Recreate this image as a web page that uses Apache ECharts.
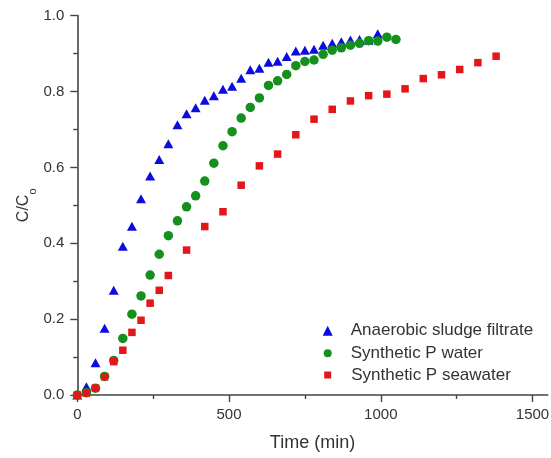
<!DOCTYPE html>
<html>
<head>
<meta charset="utf-8">
<title>Phosphate breakthrough curves</title>
<script src="https://cdn.jsdelivr.net/npm/echarts@6/dist/echarts.min.js"></script>
<style>
  html, body { margin: 0; padding: 0; background: #fff; }
  #chart { width: 551px; height: 458px; }
</style>
</head>
<body>
<div id="chart"></div>
<script>
// Breakthrough data: time (min) and normalised concentration C/Co
const filtrateTime = [0, 30, 60, 90, 120, 150, 180, 210, 240, 270, 300, 330, 360, 390, 420, 450, 480, 510,
  540, 570, 600, 630, 660, 690, 720, 750, 780, 810, 840, 870, 900, 930, 960, 990];
const filtrateConc = [0.0, 0.022, 0.085, 0.176, 0.276, 0.392, 0.445, 0.517, 0.577, 0.621, 0.662, 0.712,
  0.741, 0.757, 0.777, 0.789, 0.806, 0.814, 0.835, 0.857, 0.861, 0.877, 0.880, 0.892, 0.907, 0.909,
  0.911, 0.922, 0.927, 0.931, 0.936, 0.937, 0.935, 0.952];

const waterTime = [0, 30, 60, 90, 120, 150, 180, 210, 240, 270, 300, 330, 360, 390, 420, 450, 480, 510,
  540, 570, 600, 630, 660, 690, 720, 750, 780, 810, 840, 870, 900, 930, 960, 990, 1020, 1050];
const waterConc = [0.0, 0.006, 0.018, 0.049, 0.091, 0.149, 0.213, 0.261, 0.316, 0.371, 0.420, 0.459,
  0.496, 0.525, 0.564, 0.611, 0.657, 0.694, 0.730, 0.758, 0.783, 0.816, 0.828, 0.845, 0.868, 0.879,
  0.883, 0.898, 0.909, 0.915, 0.922, 0.927, 0.934, 0.933, 0.943, 0.937];

const seawaterTime = [0, 30, 60, 90, 120, 150, 180, 210, 240, 270, 300, 360, 420, 480, 540, 600, 660,
  720, 780, 840, 900, 960, 1020, 1080, 1140, 1200, 1260, 1320, 1380];
const seawaterConc = [0.0, 0.005, 0.018, 0.048, 0.088, 0.118, 0.165, 0.197, 0.242, 0.276, 0.315, 0.382,
  0.444, 0.483, 0.553, 0.604, 0.635, 0.686, 0.727, 0.753, 0.775, 0.789, 0.793, 0.807, 0.834, 0.844,
  0.858, 0.876, 0.893];

const seriesNames = ['Anaerobic sludge filtrate', 'Synthetic P water', 'Synthetic P seawater'];
const xMajorTicks = [0, 500, 1000, 1500];
const xMinorTicks = [250, 750, 1250];

const FONT = '"Liberation Sans", Arial, Helvetica, sans-serif';
const AXIS_COLOR = '#444';
const TEXT_COLOR = '#333';
const COLORS = ['#0c0cdc', '#16901c', '#e5161b'];

function pairs(xs, ys) {
  return xs.map((x, i) => [x, ys[i]]);
}

function legendFor(idx, top, size, pad) {
  return {
    data: [seriesNames[idx]],
    orient: 'vertical',
    left: 327.7 - size / 2,
    top: top,
    itemWidth: size,
    itemHeight: size,
    itemGap: 0,
    padding: 0,
    textStyle: {
      fontFamily: FONT,
      fontSize: 17,
      lineHeight: 22,
      color: TEXT_COLOR,
      padding: [0, 0, 0, pad]
    },
    selectedMode: false
  };
}

const chart = echarts.init(document.getElementById('chart'), null, { renderer: 'canvas' });

chart.setOption({
  animation: false,
  backgroundColor: '#fff',
  grid: { left: 77.3, right: 3.3, top: 15.6, bottom: 63, containLabel: false, outerBoundsMode: 'none' },
  legend: [
    legendFor(0, 319.7, 10, 13),
    legendFor(1, 342.3, 8, 14),
    legendFor(2, 364, 7, 15)
  ],
  xAxis: [
    {
      type: 'value',
      min: 0,
      max: 1550,
      name: 'Time (min)',
      nameLocation: 'middle',
      nameGap: 39,
      nameMoveOverlap: false,
      nameTextStyle: { fontFamily: FONT, fontSize: 18, color: TEXT_COLOR },
      axisLine: { show: true, onZero: false, lineStyle: { color: AXIS_COLOR, width: 1.6 } },
      axisTick: { show: true, length: 7, customValues: xMajorTicks, lineStyle: { color: AXIS_COLOR, width: 1.4 } },
      axisLabel: {
        customValues: xMajorTicks,
        margin: 12,
        fontFamily: FONT,
        fontSize: 15,
        color: TEXT_COLOR,
        formatter: v => String(v)
      },
      splitLine: { show: false }
    },
    {
      type: 'value',
      min: 0,
      max: 1550,
      position: 'bottom',
      axisLine: { show: false },
      axisTick: { show: true, length: 4, customValues: xMinorTicks, lineStyle: { color: AXIS_COLOR, width: 1.4 } },
      axisLabel: { show: false },
      splitLine: { show: false }
    }
  ],
  yAxis: {
    type: 'value',
    min: 0,
    max: 1,
    interval: 0.2,
    name: '{c|C/C}{s|o}',
    nameLocation: 'middle',
    nameGap: 39,
    nameMoveOverlap: false,
    nameTextStyle: {
      rich: {
        c: { fontFamily: FONT, fontSize: 16, color: TEXT_COLOR, lineHeight: 16, verticalAlign: 'top' },
        s: { fontFamily: FONT, fontSize: 11, color: TEXT_COLOR, lineHeight: 23, verticalAlign: 'bottom' }
      }
    },
    axisLine: { show: true, onZero: false, lineStyle: { color: AXIS_COLOR, width: 1.6 } },
    axisTick: { show: true, length: 7, lineStyle: { color: AXIS_COLOR, width: 1.4 } },
    minorTick: { show: true, splitNumber: 2, length: 4, lineStyle: { color: AXIS_COLOR, width: 1.4 } },
    axisLabel: {
      margin: 13,
      fontFamily: FONT,
      fontSize: 15,
      color: TEXT_COLOR,
      formatter: v => v.toFixed(1)
    },
    splitLine: { show: false },
    minorSplitLine: { show: false }
  },
  series: [
    {
      name: seriesNames[0],
      type: 'scatter',
      symbol: 'triangle',
      symbolSize: [10, 9],
      itemStyle: { color: COLORS[0], opacity: 1 },
      data: pairs(filtrateTime, filtrateConc)
    },
    {
      name: seriesNames[1],
      type: 'scatter',
      symbol: 'circle',
      symbolSize: 9.5,
      itemStyle: { color: COLORS[1], opacity: 1 },
      data: pairs(waterTime, waterConc)
    },
    {
      name: seriesNames[2],
      type: 'scatter',
      symbol: 'rect',
      symbolSize: 7.5,
      itemStyle: { color: COLORS[2], opacity: 1 },
      data: pairs(seawaterTime, seawaterConc)
    }
  ]
});
</script>
</body>
</html>
